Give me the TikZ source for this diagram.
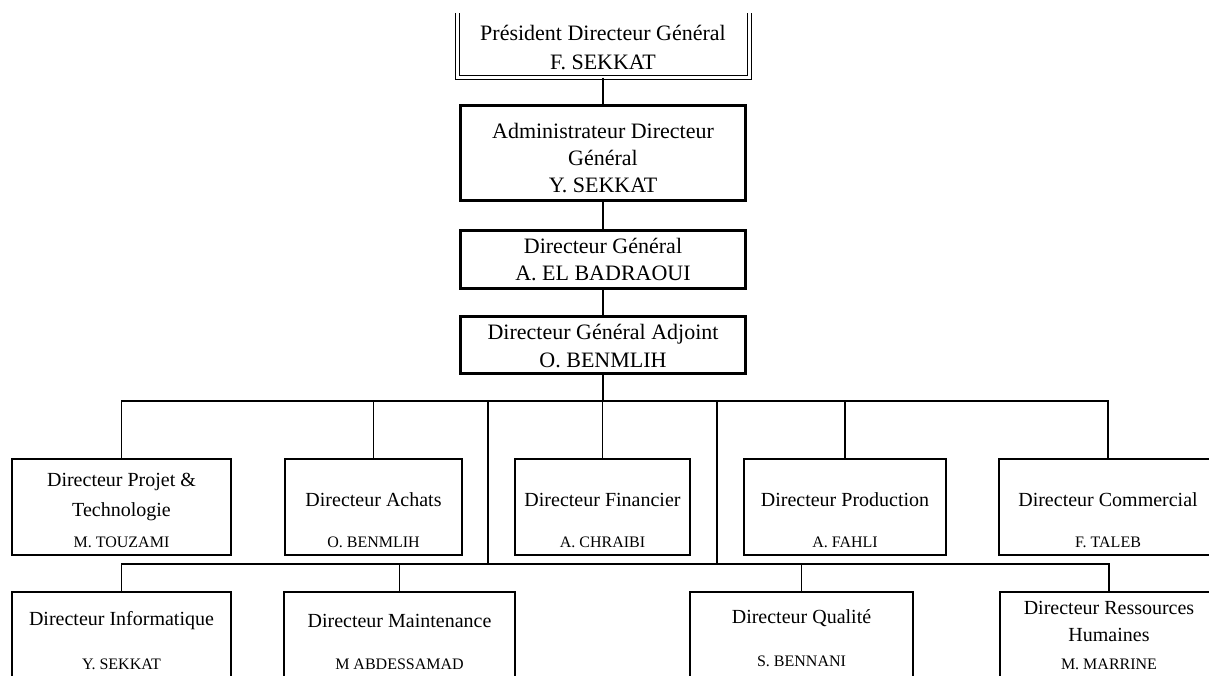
\documentclass[tikz,border=0pt]{standalone}
\usepackage{fontspec}
\setmainfont{Liberation Serif}
\begin{document}
\begin{tikzpicture}[x=0.5pt,y=-0.5pt]
\tikzset{pdg/.style={draw, double, line width=0.5pt, double distance=1.5pt, minimum width=146pt, minimum height=33.5pt}}
\tikzset{direction/.style={draw, line width=1.5pt, minimum width=142.5pt, minimum height=#1}}
\tikzset{service/.style={draw, line width=1pt, minimum width=#1, minimum height=48pt}}
\tikzset{bas/.style={draw, line width=1pt, minimum width=#1, minimum height=55pt}}
\tikzset{titre/.style={font=\fontsize{10}{13.5}\selectfont, align=center, inner sep=0pt}}
\tikzset{chef/.style={font=\fontsize{11}{13.5}\selectfont, align=center, inner sep=0pt}}
\tikzset{nom/.style={font=\fontsize{8}{9}\selectfont, inner sep=0pt}}
\tikzset{lien/.style={line width=0.6pt}}
\useasboundingbox (0,0) rectangle (1209,675);
\clip (0,13) rectangle (1209,675);
% direction generale
\node[pdg] (P) at (603,43.5) {};
\node[chef] (Pt) at (603,47.5) {Président Directeur Général\\[1pt]F. SEKKAT};
\node[direction=47.5pt] (A) at (603,152.5) {};
\node[chef] (At) at (603,158.5) {Administrateur Directeur\\Général\\Y. SEKKAT};
\node[direction=29pt] (G) at (603,259) {};
\node[chef] (Gt) at (603,260) {Directeur Général\\A. EL BADRAOUI};
\node[direction=28.5pt] (D) at (603,344.5) {};
\node[chef] (Dt) at (603,346) {Directeur Général Adjoint\\O. BENMLIH};
% directions
\node[service=109.5pt] (projet) at (121.5,507) {};
\node[titre] (projett) at (121.5,496.5) {Directeur Projet \&\\[1.5pt]Technologie};
\node[nom] (projetn) at (121.5,542) {M. TOUZAMI};
\node[service=88.5pt] (achats) at (373.5,507) {};
\node[titre] (achatst) at (373.5,500) {Directeur Achats};
\node[nom] (achatsn) at (373.5,542) {O. BENMLIH};
\node[service=87.5pt] (fin) at (602.5,507) {};
\node[titre] (fint) at (602.5,500) {Directeur Financier};
\node[nom] (finn) at (602.5,542) {A. CHRAIBI};
\node[service=101pt] (prod) at (845,507) {};
\node[titre] (prodt) at (845,500) {Directeur Production};
\node[nom] (prodn) at (845,542) {A. FAHLI};
\node[service=109pt] (com) at (1108,507) {};
\node[titre] (comt) at (1108,500) {Directeur Commercial};
\node[nom] (comn) at (1108,542) {F. TALEB};
% deuxieme rangee
\node[bas=109.5pt] (info) at (121.5,647) {};
\node[titre] (infot) at (121.5,621) {Directeur Informatique};
\node[nom] (infon) at (121.5,664) {Y. SEKKAT};
\node[bas=115.5pt] (maint) at (399.5,647) {};
\node[titre] (maintt) at (399.5,621) {Directeur Maintenance};
\node[nom] (maintn) at (399.5,664) {M ABDESSAMAD};
\node[bas=111.5pt] (qual) at (801.5,647) {};
\node[titre] (qualt) at (801.5,618) {Directeur Qualité};
\node[nom] (qualn) at (801.5,661) {S. BENNANI};
\node[bas=109pt] (rh) at (1109,647) {};
\node[titre] (rht) at (1109,621.5) {Directeur Ressources\\Humaines};
\node[nom] (rhn) at (1109,664) {M. MARRINE};
% liens
\coordinate (h1) at (603,401);
\coordinate (h2) at (603,564);
\coordinate (tA) at (488,401);
\coordinate (tB) at (717,401);
\draw[lien] (P) -- (A);
\draw[lien] (A) -- (G);
\draw[lien] (G) -- (D);
\draw[lien] (D) -- (h1);
\draw[lien] (projet.north) |- (h1) -| (com.north);
\draw[lien] (achats) -- (achats |- h1);
\draw[lien] (fin) -- (fin |- h1);
\draw[lien] (prod) -- (prod |- h1);
\draw[lien] (tA) -- (tA |- h2);
\draw[lien] (tB) -- (tB |- h2);
\draw[lien] (info.north) |- (h2) -| (rh.north);
\draw[lien] (maint) -- (maint |- h2);
\draw[lien] (qual) -- (qual |- h2);
\end{tikzpicture}
\end{document}
